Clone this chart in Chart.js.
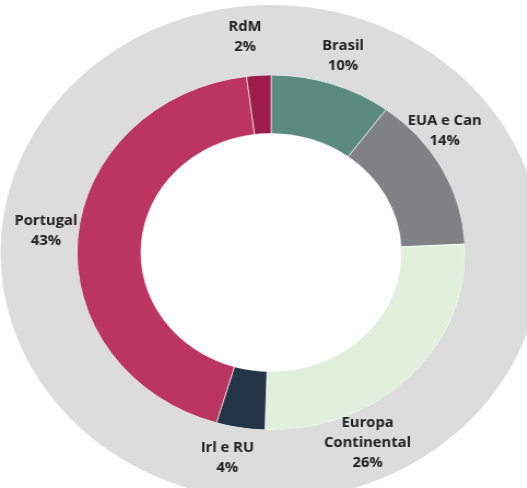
<!DOCTYPE html>
<html><head><meta charset="utf-8">
<script src="https://cdn.jsdelivr.net/npm/chart.js@4.4.1/dist/chart.umd.min.js"></script>
<style>
html,body{margin:0;padding:0;background:#fff;overflow:hidden;width:527px;height:488px;}
#wrap{position:absolute;left:0;top:0;width:496px;height:500px;transform:scaleX(1.093);transform-origin:0 0;}
</style></head><body>
<div id="wrap"><canvas id="c"></canvas></div>
<script>
const categories = ['Brasil', 'EUA e Can', 'Europa Continental', 'Irl e RU', 'Portugal', 'RdM'];
const labelLines = [['Brasil'], ['EUA e Can'], ['Europa', 'Continental'], ['Irl e RU'], ['Portugal'], ['RdM']];
const shares = [10, 14, 26, 4, 43, 2];
const ringValue = [100];
const sliceColors = ['#5b8b7f', '#808184', '#e1f0dc', '#233446', '#bb3561', '#9c1d4a'];

const labelPlugin = {
  id: 'ringLabels',
  afterDatasetsDraw(chart, args, opts) {
    const ctx = chart.ctx;
    const outer = chart.getDatasetMeta(0).data[0];
    const meta = chart.getDatasetMeta(1);
    ctx.save();
    ctx.font = opts.font;
    ctx.fillStyle = opts.color;
    ctx.textAlign = 'center';
    ctx.textBaseline = 'middle';
    meta.data.forEach((el, i) => {
      const base = (el.outerRadius + outer.outerRadius) / 2;
      const r = base + opts.radiusNudge[i];
      const a = (el.startAngle + el.endAngle) / 2 + opts.angleNudge[i] * Math.PI / 180;
      const x = el.x + r * Math.cos(a);
      const y = el.y + r * Math.sin(a);
      const lines = labelLines[i].concat([shares[i] + '%']);
      const y0 = y - (lines.length - 1) * opts.lineHeight / 2;
      lines.forEach((t, k) => ctx.fillText(t, x, y0 + k * opts.lineHeight));
    });
    ctx.restore();
  }
};

new Chart(document.getElementById('c'), {
  type: 'doughnut',
  data: {
    labels: categories,
    datasets: [
      { data: ringValue, backgroundColor: ['#dcdcdc'], borderWidth: 0, weight: 70 },
      { data: shares, backgroundColor: sliceColors, borderWidth: 1, borderColor: 'rgba(255,255,255,0.6)', weight: 58.5 }
    ]
  },
  options: {
    responsive: true,
    maintainAspectRatio: false,
    animation: false,
    cutout: '48.1%',
    layout: { padding: { top: 5, bottom: 0, left: 0, right: 0 } },
    plugins: {
      legend: { display: false },
      tooltip: { enabled: false },
      ringLabels: {
        font: 'bold 13.5px "Open Sans"',
        color: '#222222',
        lineHeight: 20,
        angleNudge: [0.3, -9.2, 20.6, 1.9, 1.3, -2.7],
        radiusNudge: [-5, -12.6, -2.5, -3, -5.5, 4]
      }
    }
  },
  plugins: [labelPlugin]
});
</script>
</body></html>
